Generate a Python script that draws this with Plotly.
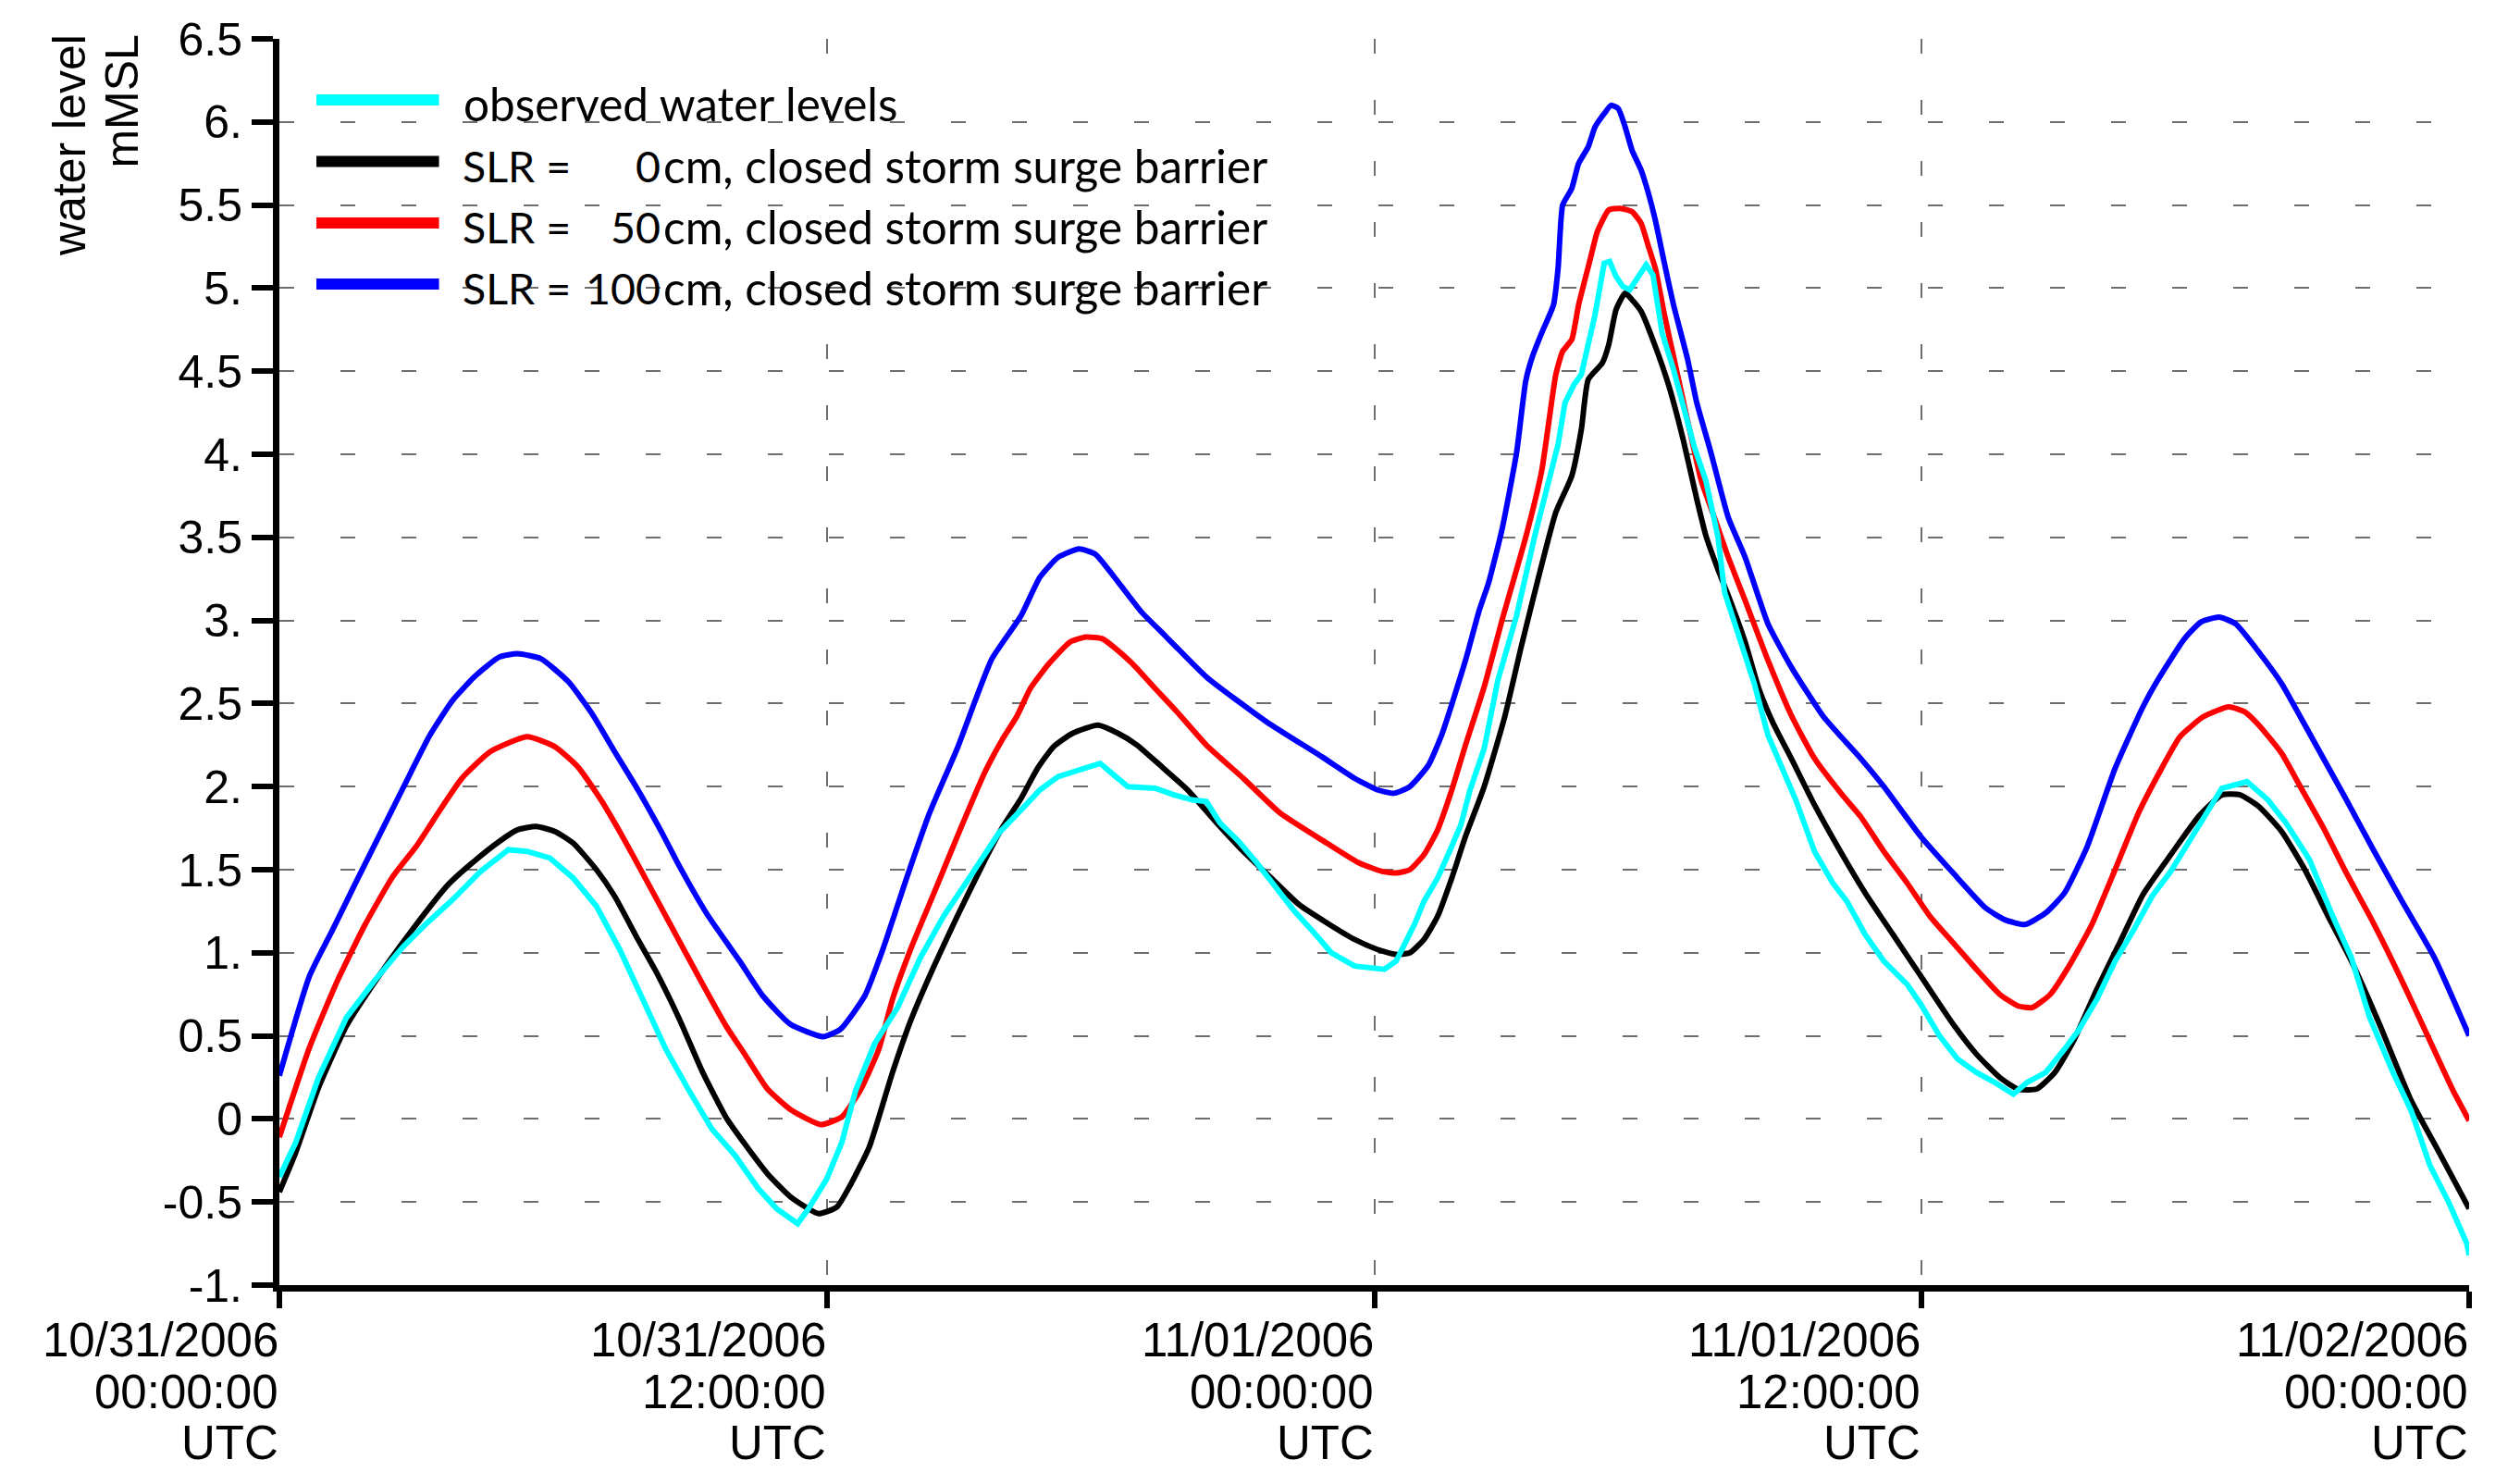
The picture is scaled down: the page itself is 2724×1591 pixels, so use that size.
import plotly.graph_objects as go
import pandas as pd

START = pd.Timestamp("2006-10-31 00:00:00")
END = pd.Timestamp("2006-11-02 00:00:00")

# ---------------- data (hours after 10/31/2006 00:00 UTC, water level mMSL) ----------------
obs_hours = [0, 0.36, 0.86, 1.47, 2.08, 2.69, 3.2, 3.8, 4.41, 5.02, 5.43, 5.93, 6.44, 6.95, 7.46,
             7.96, 8.47, 8.98, 9.48, 9.99, 10.5, 10.9, 11.36, 11.6, 12.0, 12.33, 12.63, 13.04, 13.55,
             14.05, 14.56, 15.17, 15.77, 16.26, 16.67, 17.07, 17.58, 17.99, 18.29, 18.6, 19.2, 19.61,
             20.01, 20.32, 20.62, 21.03, 21.43, 21.84, 22.25, 22.65, 23.06, 23.57, 23.97, 24.22, 24.48,
             24.68, 24.88, 25.09, 25.39, 25.65, 25.9, 26.1, 26.41, 26.71, 27.12, 27.52, 27.83, 28.03,
             28.18, 28.38, 28.54, 28.69, 28.84, 29.04, 29.16, 29.3, 29.45, 29.6, 29.75, 29.96, 30.11,
             30.21, 30.31, 30.56, 30.82, 31.02, 31.27, 31.53, 31.68, 32.13, 32.33, 32.63, 32.94, 33.24,
             33.65, 34.05, 34.36, 34.76, 35.17, 35.68, 35.98, 36.39, 36.79, 37.2, 37.6, 38.01, 38.31,
             38.72, 39.13, 39.43, 39.84, 40.24, 40.65, 41.05, 41.46, 41.86, 42.27, 42.58, 43.13, 43.59,
             43.99, 44.5, 45.01, 45.42, 45.82, 46.33, 46.73, 47.14, 47.55, 47.95, 48.0]
obs_level = [-0.35, -0.14, 0.25, 0.61, 0.83, 1.03, 1.17, 1.32, 1.49, 1.62, 1.61, 1.57, 1.45, 1.28, 1.02,
             0.72, 0.42, 0.17, -0.06, -0.22, -0.42, -0.54, -0.63, -0.54, -0.36, -0.14, 0.17, 0.45, 0.67,
             0.97, 1.22, 1.47, 1.72, 1.86, 1.98, 2.06, 2.10, 2.14, 2.07, 2.00, 1.99, 1.95,
             1.92, 1.91, 1.78, 1.67, 1.54, 1.39, 1.25, 1.13, 1.00, 0.92, 0.91, 0.90, 0.95,
             1.06, 1.17, 1.31, 1.45, 1.61, 1.77, 1.98, 2.23, 2.64, 3.03, 3.51, 3.84, 4.06,
             4.31, 4.42, 4.48, 4.68, 4.84, 5.15, 5.16, 5.07, 5.01, 4.99, 5.05, 5.14, 5.08,
             4.90, 4.73, 4.51, 4.23, 4.04, 3.84, 3.51, 3.17, 2.78, 2.62, 2.31, 2.12, 1.92,
             1.61, 1.42, 1.31, 1.11, 0.95, 0.81, 0.69, 0.50, 0.36, 0.28, 0.22, 0.15, 0.22,
             0.28, 0.42, 0.53, 0.72, 0.95, 1.14, 1.34, 1.49, 1.67, 1.86, 1.99, 2.03, 1.92,
             1.78, 1.56, 1.22, 0.97, 0.61, 0.28, 0.05, -0.28, -0.50, -0.75, -0.82]

slr0_hours = [0, 0.36, 0.86, 1.47, 2.18, 2.89, 3.70, 4.31, 4.82, 5.22, 5.63, 6.04, 6.44, 6.95, 7.35,
              7.86, 8.27, 8.77, 9.28, 9.79, 10.2, 10.7, 11.21, 11.82, 12.22, 12.53, 12.93, 13.44, 13.85,
              14.35, 14.86, 15.47, 15.84, 16.26, 16.62, 16.97, 17.38, 17.94, 18.39, 18.8, 19.3, 19.91,
              20.52, 21.13, 21.74, 22.35, 22.96, 23.57, 24.07, 24.48, 24.78, 25.09, 25.39, 25.7, 26.0,
              26.41, 26.86, 27.22, 27.62, 27.98, 28.33, 28.54, 28.69, 29.0, 29.14, 29.3, 29.5, 29.65,
              29.85, 30.16, 30.46, 30.77, 31.07, 31.27, 31.53, 31.76, 32.13, 32.43, 32.73, 33.14, 33.65,
              34.26, 34.76, 35.37, 35.98, 36.69, 37.2, 37.71, 38.11, 38.52, 38.92, 39.33, 39.84, 40.34,
              40.85, 41.46, 42.07, 42.58, 42.98, 43.39, 43.89, 44.4, 44.91, 45.42, 46.02, 46.73, 47.34, 48.0]
slr0_level = [-0.44, -0.20, 0.19, 0.56, 0.86, 1.13, 1.41, 1.56, 1.67, 1.74, 1.76, 1.73, 1.66, 1.50, 1.34,
              1.08, 0.88, 0.60, 0.28, 0.01, -0.15, -0.33, -0.47, -0.57, -0.53, -0.39, -0.17, 0.28, 0.60,
              0.92, 1.22, 1.56, 1.75, 1.93, 2.11, 2.24, 2.32, 2.37, 2.32, 2.25, 2.13, 1.98,
              1.79, 1.61, 1.45, 1.29, 1.18, 1.08, 1.02, 0.99, 1.00, 1.08, 1.22, 1.45, 1.70,
              2.00, 2.42, 2.84, 3.28, 3.65, 3.87, 4.15, 4.45, 4.55, 4.66, 4.87, 4.97, 4.93,
              4.86, 4.65, 4.41, 4.09, 3.73, 3.51, 3.31, 3.15, 2.87, 2.59, 2.39, 2.17, 1.89,
              1.59, 1.36, 1.11, 0.86, 0.57, 0.39, 0.25, 0.18, 0.18, 0.28, 0.47, 0.78, 1.06,
              1.35, 1.59, 1.82, 1.95, 1.95, 1.88, 1.73, 1.50, 1.22, 0.95, 0.58, 0.11, -0.20, -0.54]

slr50_hours = [0, 0.66, 1.27, 1.88, 2.49, 3.0, 3.5, 4.0, 4.62, 5.43, 6.04, 6.54, 7.05, 7.46, 7.96,
               8.57, 9.28, 9.79, 10.2, 10.7, 11.21, 11.87, 12.33, 12.73, 13.14, 13.44, 13.85, 14.35,
               14.86, 15.47, 15.84, 16.16, 16.46, 16.87, 17.33, 17.68, 18.04, 18.29, 18.7, 19.2, 19.71,
               20.32, 21.13, 21.94, 22.96, 23.67, 24.17, 24.48, 24.78, 25.09, 25.39, 25.7, 26.0, 26.41,
               26.81, 27.32, 27.67, 27.98, 28.13, 28.33, 28.48, 28.74, 28.89, 29.14, 29.4, 29.65, 29.85,
               30.0, 30.16, 30.36, 30.56, 30.87, 31.17, 31.48, 31.76, 32.13, 32.63, 33.14, 33.65, 34.26,
               34.66, 35.17, 35.68, 36.18, 36.69, 37.2, 37.71, 38.11, 38.42, 38.82, 39.23, 39.73, 40.24,
               40.75, 41.26, 41.66, 42.17, 42.73, 43.08, 43.39, 43.89, 44.3, 44.81, 45.31, 45.92, 46.53,
               47.04, 47.65, 48.0]
slr50_level = [-0.11, 0.43, 0.83, 1.17, 1.46, 1.64, 1.85, 2.05, 2.21, 2.30, 2.24, 2.12, 1.92, 1.73, 1.48,
               1.17, 0.81, 0.56, 0.39, 0.18, 0.055, -0.034, 0.013, 0.17, 0.42, 0.72, 1.03, 1.36,
               1.70, 2.09, 2.28, 2.42, 2.59, 2.74, 2.87, 2.90, 2.89, 2.84, 2.74, 2.59, 2.44,
               2.25, 2.05, 1.84, 1.66, 1.54, 1.49, 1.48, 1.50, 1.59, 1.74, 1.98, 2.25, 2.60,
               3.01, 3.50, 3.90, 4.48, 4.62, 4.69, 4.90, 5.18, 5.34, 5.47, 5.48, 5.46, 5.39,
               5.26, 5.12, 4.84, 4.59, 4.20, 3.84, 3.60, 3.38, 3.12, 2.76, 2.43, 2.17, 1.95,
               1.82, 1.61, 1.42, 1.22, 1.06, 0.90, 0.75, 0.68, 0.67, 0.75, 0.92, 1.17, 1.50,
               1.84, 2.11, 2.30, 2.42, 2.48, 2.45, 2.37, 2.20, 2.00, 1.75, 1.48, 1.17, 0.83,
               0.53, 0.17, -0.01]

slr100_hours = [0, 0.66, 1.17, 1.67, 2.38, 2.89, 3.3, 3.8, 4.31, 4.82, 5.22, 5.73, 6.34, 6.85, 7.35,
                7.86, 8.37, 8.77, 9.38, 10.09, 10.6, 11.2, 11.92, 12.3, 12.83, 13.24, 13.75, 14.25,
                14.86, 15.27, 15.62, 16.26, 16.67, 17.07, 17.53, 17.88, 18.39, 18.9, 19.41, 20.32,
                21.64, 22.85, 23.57, 24.07, 24.43, 24.78, 25.19, 25.49, 26.0, 26.3, 26.51, 26.81, 27.12,
                27.32, 27.47, 27.67, 27.93, 28.03, 28.13, 28.33, 28.48, 28.69, 28.84, 29.04, 29.19, 29.35,
                29.5, 29.65, 29.85, 30.0, 30.16, 30.36, 30.56, 30.87, 31.07, 31.38, 31.76, 32.13, 32.63,
                33.14, 33.85, 34.66, 35.17, 35.98, 36.69, 37.4, 37.81, 38.26, 38.72, 39.13, 39.63, 40.24,
                40.85, 41.15, 41.76, 42.12, 42.52, 42.88, 43.39, 43.89, 44.3, 45.31, 45.92, 46.53, 47.24, 48.0]
slr100_level = [0.26, 0.86, 1.14, 1.42, 1.81, 2.09, 2.31, 2.52, 2.67, 2.78, 2.80, 2.77, 2.63, 2.44, 2.21,
                1.98, 1.73, 1.52, 1.23, 0.95, 0.74, 0.57, 0.495, 0.54, 0.74, 1.03, 1.45, 1.84,
                2.23, 2.53, 2.77, 3.03, 3.26, 3.38, 3.43, 3.40, 3.23, 3.05, 2.91, 2.66,
                2.39, 2.18, 2.05, 1.98, 1.96, 2.00, 2.13, 2.32, 2.76, 3.06, 3.23, 3.56, 4.01,
                4.44, 4.59, 4.73, 4.90, 5.12, 5.50, 5.60, 5.75, 5.85, 5.97, 6.05, 6.10, 6.08,
                5.97, 5.83, 5.71, 5.58, 5.41, 5.15, 4.90, 4.57, 4.31, 4.01, 3.62, 3.38, 2.98,
                2.72, 2.42, 2.17, 2.00, 1.70, 1.48, 1.27, 1.20, 1.17, 1.24, 1.36, 1.64, 2.11,
                2.48, 2.63, 2.89, 2.99, 3.02, 2.98, 2.81, 2.62, 2.42, 1.92, 1.61, 1.31, 0.97, 0.50]

series_names = ["observed water levels",
                "SLR =    0cm, closed storm surge barrier",
                "SLR =   50cm, closed storm surge barrier",
                "SLR = 100cm, closed storm surge barrier"]
slr_numbers = ["0", "50", "100"]
series_colors = ["#00FFFF", "#000000", "#FF0000", "#0000FF"]

y_tickvals = [-1, -0.5, 0, 0.5, 1, 1.5, 2, 2.5, 3, 3.5, 4, 4.5, 5, 5.5, 6, 6.5]
y_ticktext = ["-1.", "-0.5", "0", "0.5", "1.", "1.5", "2.", "2.5", "3.", "3.5",
              "4.", "4.5", "5.", "5.5", "6.", "6.5"]
x_tick_hours = [0, 12, 24, 36, 48]
x_tick_dates = ["10/31/2006", "10/31/2006", "11/01/2006", "11/01/2006", "11/02/2006"]
x_tick_times = ["00:00:00", "12:00:00", "00:00:00", "12:00:00", "00:00:00"]
x_tick_zone = ["UTC", "UTC", "UTC", "UTC", "UTC"]


def to_time(hours):
    return [START + pd.Timedelta(hours=h) for h in hours]


fig = go.Figure()
# draw order: model runs first, observations on top
for hrs, lev, idx in [(slr0_hours, slr0_level, 1), (slr50_hours, slr50_level, 2),
                      (slr100_hours, slr100_level, 3), (obs_hours, obs_level, 0)]:
    line = dict(color=series_colors[idx], width=6)
    if idx != 0:
        line.update(shape="spline", smoothing=0.5)
    fig.add_trace(go.Scatter(x=to_time(hrs), y=lev, mode="lines", name=series_names[idx],
                             line=line, showlegend=False))

GRID = dict(showgrid=True, gridcolor="#6e6e6e", gridwidth=2, griddash="16px,50px")
AXFONT = "Liberation Sans, Arial, sans-serif"

fig.update_xaxes(type="date", range=[START, END], tickmode="array",
                 tickvals=to_time(x_tick_hours), showticklabels=False,
                 ticks="outside", ticklen=18, tickwidth=6, tickcolor="black",
                 showline=True, linewidth=7, linecolor="black", zeroline=False, **GRID)
fig.update_yaxes(range=[-1, 6.5], tickmode="array", tickvals=y_tickvals, ticktext=y_ticktext,
                 ticks="outside", ticklen=23, tickwidth=6, tickcolor="black",
                 showline=True, linewidth=7, linecolor="black", zeroline=False,
                 tickfont=dict(family=AXFONT, size=50, color="black"), **GRID)

TICKFONT = dict(family=AXFONT, size=51, color="black")
annotations = []
# ---- x tick labels: three right-aligned lines under each tick ----
for h, d, t, z in zip(x_tick_hours, x_tick_dates, x_tick_times, x_tick_zone):
    xt = START + pd.Timedelta(hours=h)
    for txt, yy in [(d, -0.0442), (t, -0.0858), (z, -0.1266)]:
        annotations.append(dict(text=txt, x=xt, y=yy, xref="x", yref="paper", xanchor="right",
                                yanchor="middle", showarrow=False, font=TICKFONT, borderpad=0))

# ---- y-axis title (two lines, rotated) ----
annotations += [
    dict(text="water level", x=-0.0960, y=1.005, xref="paper", yref="paper", textangle=-90,
         xanchor="center", yanchor="top", showarrow=False,
         font=dict(family=AXFONT, size=50, color="black")),
    dict(text="mMSL", x=-0.0717, y=1.005, xref="paper", yref="paper", textangle=-90,
         xanchor="center", yanchor="top", showarrow=False,
         font=dict(family=AXFONT, size=50, color="black")),
]

# ---- manual legend ----
LEGFONT_A = dict(family="Lato, sans-serif", size=46.5, color="black")
LEGFONT_B = dict(family="Lato, sans-serif", size=49.5, color="black")
leg_rows_y = [0.9480, 0.8986, 0.8493, 0.8003]
shapes = []
for row, idx in enumerate([0, 1, 2, 3]):
    yy = leg_rows_y[row]
    shapes.append(dict(type="line", xref="paper", yref="paper", x0=0.0169, x1=0.0729,
                       y0=yy + 0.003, y1=yy + 0.003,
                       line=dict(color=series_colors[idx], width=12)))
    if idx == 0:
        annotations.append(dict(text=series_names[0], x=0.0831, y=yy, xref="paper", yref="paper",
                                xanchor="left", yanchor="middle", showarrow=False, font=LEGFONT_B))
    else:
        annotations.append(dict(text="SLR =", x=0.0827, y=yy, xref="paper", yref="paper",
                                xanchor="left", yanchor="middle", showarrow=False, font=LEGFONT_A))
        annotations.append(dict(text=slr_numbers[idx - 1], x=0.1748, y=yy, xref="paper", yref="paper",
                                xanchor="right", yanchor="middle", showarrow=False, font=LEGFONT_A))
        annotations.append(dict(text="cm, closed storm surge barrier", x=0.1745, y=yy, xref="paper",
                                yref="paper", xanchor="left", yanchor="middle", showarrow=False,
                                font=LEGFONT_B))

# page body has an 8px margin: figure placed at (8, 8)
fig.update_layout(width=2708, height=1583, margin=dict(l=294, r=47, t=34, b=202, autoexpand=False),
                  paper_bgcolor="white", plot_bgcolor="white", showlegend=False,
                  font=dict(family=AXFONT, size=49, color="black"),
                  annotations=annotations, shapes=shapes)

fig.write_html("out.html")
